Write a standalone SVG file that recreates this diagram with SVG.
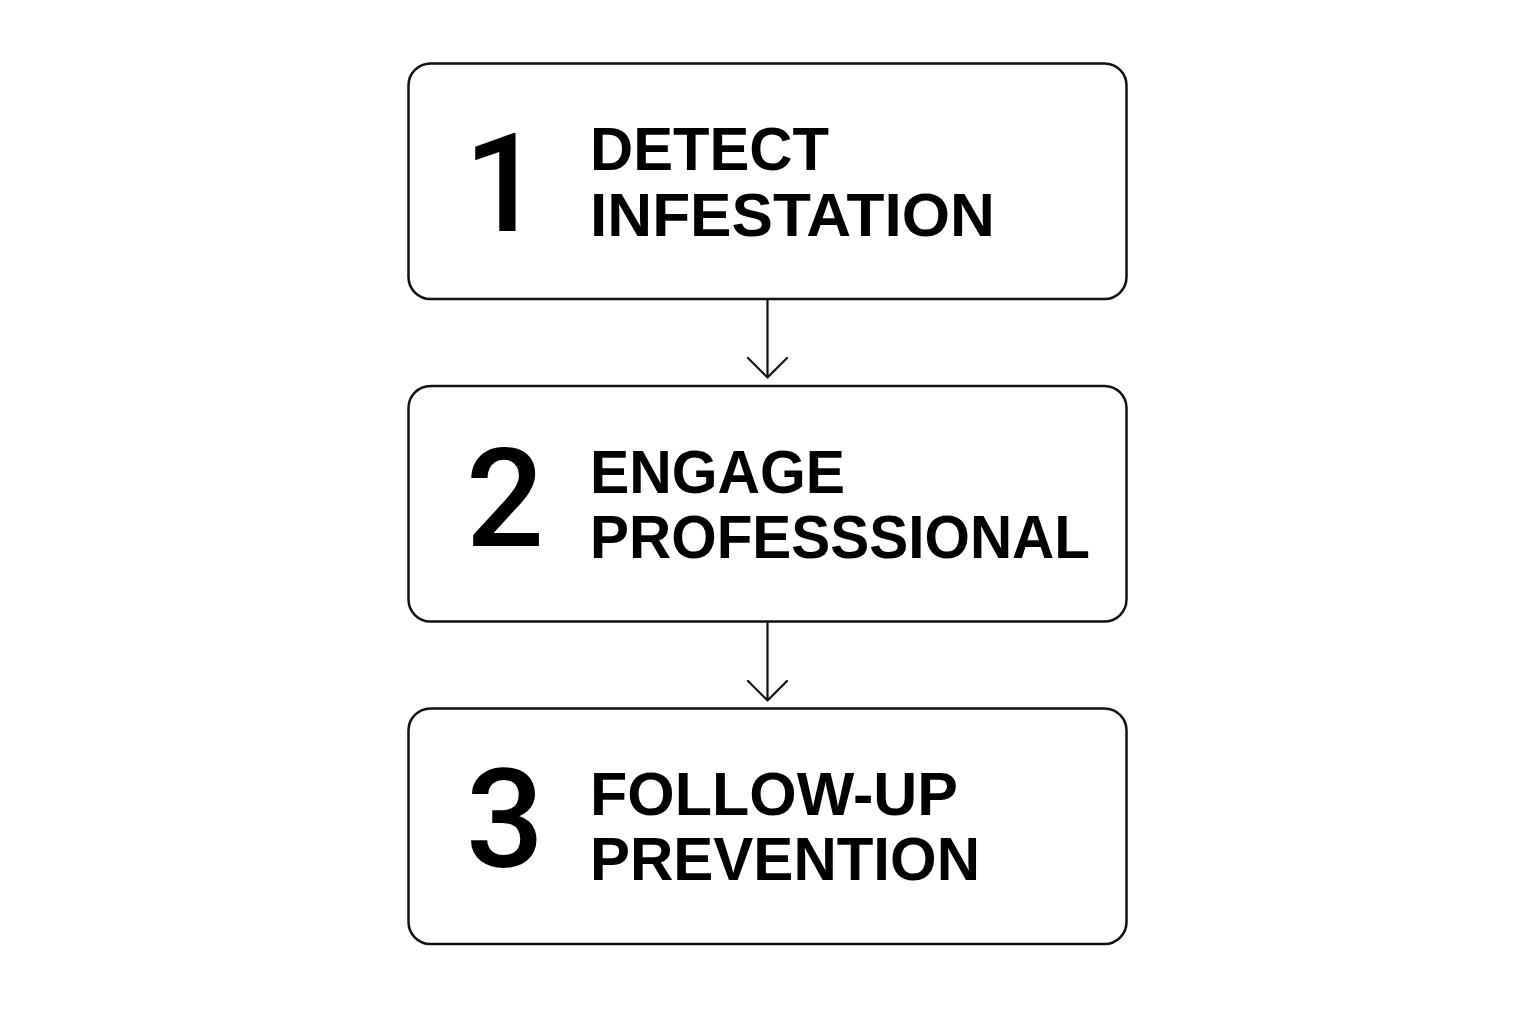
<svg xmlns="http://www.w3.org/2000/svg" width="1536" height="1024" viewBox="0 0 1536 1024">
<style>
.box{fill:#fff;stroke:#111;stroke-width:2.5}
.num{font-family:Roboto,"Liberation Sans",Arial,sans-serif;font-weight:500;font-size:138px;fill:#000;text-anchor:middle}
.lbl{font-family:"Liberation Sans",Arial,sans-serif;font-weight:bold;font-size:62px;fill:#000}
.conn{fill:none;stroke:#111;stroke-width:2.2;stroke-linecap:round;stroke-linejoin:round}
</style>
<rect width="1536" height="1024" fill="#fff"/>
<g id="connectors">
<path class="conn" d="M767.5 299 V377 M748 358 L767.5 377.5 L787 358"/>
<path class="conn" d="M767.5 621 V700 M748 681 L767.5 700.5 L787 681"/>
</g>
<g id="node1">
<rect class="box" x="408.5" y="63.5" width="718" height="235.5" rx="22"/>
<text class="num" x="503" y="231">1</text>
<text class="lbl" x="590" y="170" textLength="239" lengthAdjust="spacingAndGlyphs">DETECT</text>
<text class="lbl" x="590" y="236" textLength="405" lengthAdjust="spacingAndGlyphs">INFESTATION</text>
</g>
<g id="node2">
<rect class="box" x="408.5" y="386" width="718" height="235.5" rx="22"/>
<text class="num" x="505" y="546">2</text>
<text class="lbl" x="590" y="493" textLength="255" lengthAdjust="spacingAndGlyphs">ENGAGE</text>
<text class="lbl" x="590" y="558" textLength="500" lengthAdjust="spacingAndGlyphs">PROFESSSIONAL</text>
</g>
<g id="node3">
<rect class="box" x="408.5" y="708.5" width="718" height="235.5" rx="22"/>
<text class="num" x="505" y="867">3</text>
<text class="lbl" x="590" y="815" textLength="368" lengthAdjust="spacingAndGlyphs">FOLLOW-UP</text>
<text class="lbl" x="590" y="880" textLength="390" lengthAdjust="spacingAndGlyphs">PREVENTION</text>
</g>
</svg>
